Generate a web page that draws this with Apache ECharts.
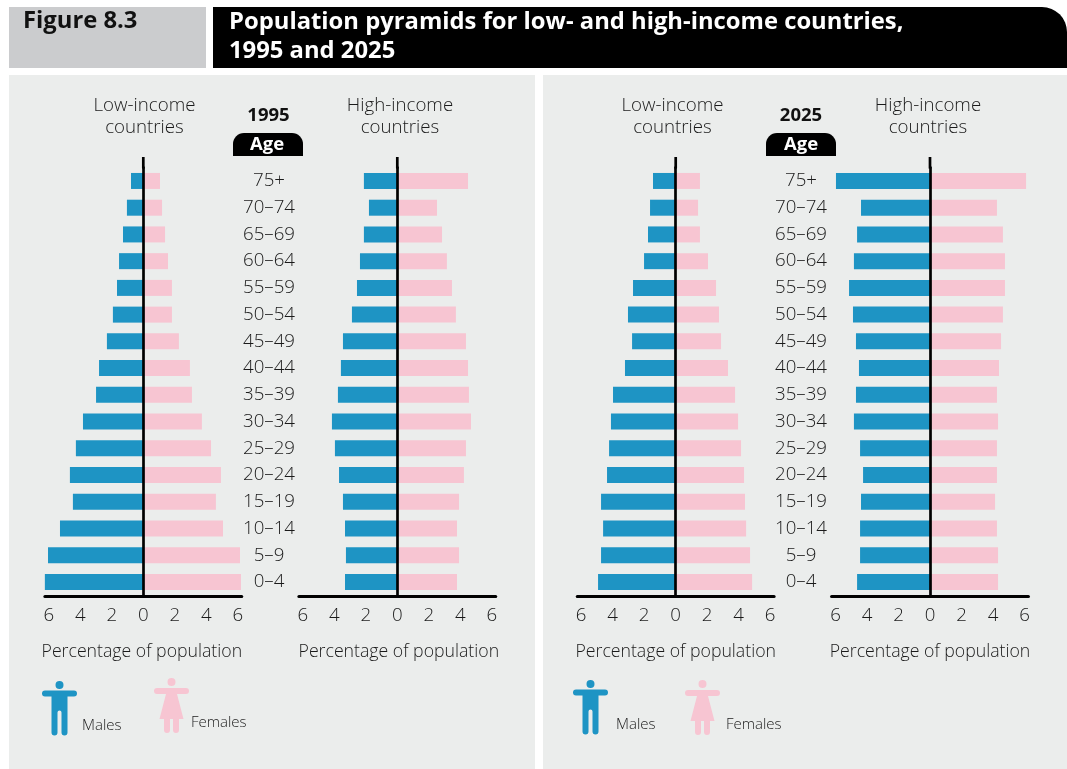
<!DOCTYPE html>
<html><head><meta charset="utf-8">
<style>html,body{margin:0;padding:0;background:#fff}#c{width:1067px;height:769px}</style>
<script src="https://cdn.jsdelivr.net/npm/echarts@6/dist/echarts.min.js"></script>
</head><body><div id="c"></div>
<script>
const ages = ['75+','70–74','65–69','60–64','55–59','50–54','45–49','40–44','35–39','30–34','25–29','20–24','15–19','10–14','5–9','0–4'];
const low1995Males   = [0.78,1.04,1.29,1.54,1.67,1.93,2.31,2.81,3.00,3.83,4.28,4.66,4.47,5.29,6.05,6.34];
const low1995Females = [1.06,1.19,1.38,1.57,1.82,1.82,2.26,2.96,3.09,3.72,4.30,4.93,4.61,5.06,6.14,6.20];
const high1995Males   = [2.12,1.80,2.12,2.37,2.56,2.88,3.45,3.58,3.77,4.15,3.96,3.70,3.45,3.32,3.26,3.32];
const high1995Females = [4.49,2.52,2.84,3.15,3.47,3.72,4.36,4.49,4.55,4.68,4.36,4.23,3.92,3.79,3.92,3.79];
const low2025Males   = [1.44,1.63,1.76,2.01,2.71,3.03,2.77,3.22,3.98,4.11,4.23,4.36,4.74,4.61,4.74,4.93];
const low2025Females = [1.54,1.42,1.54,2.05,2.56,2.75,2.88,3.32,3.77,3.96,4.15,4.34,4.40,4.47,4.72,4.85];
const high2025Males   = [5.97,4.38,4.63,4.83,5.14,4.89,4.70,4.51,4.70,4.83,4.44,4.25,4.38,4.44,4.44,4.63];
const high2025Females = [6.10,4.25,4.63,4.76,4.76,4.63,4.51,4.38,4.25,4.32,4.25,4.25,4.13,4.25,4.32,4.32];
const xTicks = [-6,-4,-2,0,2,4,6];

const BLUE='#1E94C4', PINK='#F7C5D2', PANEL='#EBEDEC', INK='#1a1a1a';
const FONT='"Open Sans", sans-serif';
const PX=15.75, GT=167.6, GH=427.7;
const charts=[
 {zero:143.3, m:low1995Males, f:low1995Females, ages:true, ageX:269, namePad:[0,3,0,0]},
 {zero:397.3, m:high1995Males, f:high1995Females, namePad:[0,0,0,3]},
 {zero:675.7, m:low2025Males, f:low2025Females, ages:true, ageX:801, namePad:0},
 {zero:930.0, m:high2025Males, f:high2025Females, namePad:0}
];
const grid=[],xAxis=[],yAxis=[],series=[];
charts.forEach((c,i)=>{
  grid.push({left:c.zero-6.25*PX, width:12.5*PX, top:GT, height:GH, containLabel:false});
  xAxis.push({gridIndex:i,type:'value',min:-6.25,max:6.25,offset:1,
    splitLine:{show:false},axisTick:{show:false},
    axisLine:{show:true,onZero:false,lineStyle:{color:'#000',width:3}},
    axisLabel:{customValues:xTicks,formatter:v=>String(Math.abs(v)),color:INK,fontSize:18.7,fontFamily:FONT,fontWeight:300,margin:10},
    name:'Percentage of population',nameLocation:'middle',nameGap:47,
    nameTextStyle:{color:INK,fontSize:17.7,fontFamily:FONT,fontWeight:300,padding:c.namePad}});
  yAxis.push({gridIndex:i,type:'category',inverse:true,data:ages,position:'right',z:5,
    axisTick:{show:false},splitLine:{show:false},
    axisLine:{show:true,onZero:true,lineStyle:{color:'#000',width:2.7}},
    axisLabel:c.ages?{show:true,align:'center',margin:c.ageX-(c.zero+6.25*PX),padding:[2,0,0,0],color:INK,fontSize:18.7,fontFamily:FONT,fontWeight:300}:{show:false}});
  const base={type:'bar',xAxisIndex:i,yAxisIndex:i,barWidth:16,barGap:'-100%',silent:true};
  series.push(Object.assign({},base,{name:'Males',data:c.m.map(v=>-v),itemStyle:{color:BLUE}}));
  series.push(Object.assign({},base,{name:'Females',data:c.f,itemStyle:{color:PINK}}));
});

const maleIcon='path://M21.5 4.5a4 4 0 1 1-8 0a4 4 0 1 1 8 0ZM3 10H32a3 3 0 0 1 0 6H25.5V52a3 3 0 0 1-6 0V32a2 2 0 0 0-4 0V52a3 3 0 0 1-6 0V16H3a3 3 0 0 1 0-6Z';
const femaleIcon='path://M21.5 4a4 4 0 1 1-8 0a4 4 0 1 1 8 0ZM3 10H32a3 3 0 0 1 0 6H23L29.5 41H25V52a3 3 0 0 1-6 0V41H16V52a3 3 0 0 1-6 0V41H5.5L12 16H3a3 3 0 0 1 0-6Z';
function lg(name,icon,left,top,gap){return {show:true,left,top,padding:0,data:[name],icon,itemWidth:35,itemHeight:55,selectedMode:false,
  formatter:n=>'\n\n'+n,
  textStyle:{color:INK,fontSize:15,lineHeight:17,fontFamily:FONT,fontWeight:300,padding:[0,0,0,gap]}};}
const legend=[lg('Males',maleIcon,42,681,0),lg('Females',femaleIcon,154,678,-3),lg('Males',maleIcon,573,680,3),lg('Females',femaleIcon,685,680,1)];

function txt(x,y,text,style){return {type:'text',x,y,silent:true,z:10,style:Object.assign({text,fill:INK,fontFamily:FONT,fontSize:18.7,fontWeight:300,align:'center',verticalAlign:'middle',lineHeight:22.5},style||{})};}
function rect(x,y,w,h,fill,r){return {type:'rect',silent:true,z:-1,shape:{x,y,width:w,height:h,r:r||0},style:{fill}};}
const graphic=[
 rect(9,7,197,61,'#CBCCCE'),
 rect(213,7,854,61,'#000',[0,25,0,0]),
 rect(9,75,526,694,PANEL),
 rect(543,75,524,694,PANEL),
 txt(23,21,'Figure 8.3',{fill:'#111',fontSize:23.8,fontWeight:700,align:'left'}),
 txt(229,22,'Population pyramids for low- and high-income countries,',{fill:'#fff',fontSize:23.8,fontWeight:700,align:'left'}),
 txt(229,51,'1995 and 2025',{fill:'#fff',fontSize:23.8,fontWeight:700,align:'left'}),
 txt(144.5,116.5,'Low-income\ncountries'),
 txt(400,116.5,'High-income\ncountries'),
 txt(672.5,116.5,'Low-income\ncountries'),
 txt(928,116.5,'High-income\ncountries'),
 txt(268.5,116,'1995',{fontWeight:700,fontSize:18.5,fill:'#111'}),
 txt(801,116,'2025',{fontWeight:700,fontSize:18.5,fill:'#111'}),
 rect(233,133,70,23,'#000',[11,11,0,0]),
 rect(766,133,70,23,'#000',[11,11,0,0]),
 txt(267,145,'Age',{fill:'#fff',fontWeight:700,fontSize:18.5}),
 txt(801,145,'Age',{fill:'#fff',fontWeight:700,fontSize:18.5})
];
const chart=echarts.init(document.getElementById('c'),null,{renderer:'canvas'});
chart.setOption({animation:false,backgroundColor:'#fff',grid,xAxis,yAxis,series,legend,graphic,tooltip:{show:false}});
// the zero line rises a little above the first age band
const stubs=charts.map((c,i)=>{
  const x=chart.convertToPixel({xAxisIndex:i},0);
  return {type:'rect',silent:true,z:10,shape:{x:x-1.35,y:157,width:2.7,height:GT-157+1},style:{fill:'#000'}};
});
chart.setOption({graphic:graphic.concat(stubs)});
</script></body></html>
